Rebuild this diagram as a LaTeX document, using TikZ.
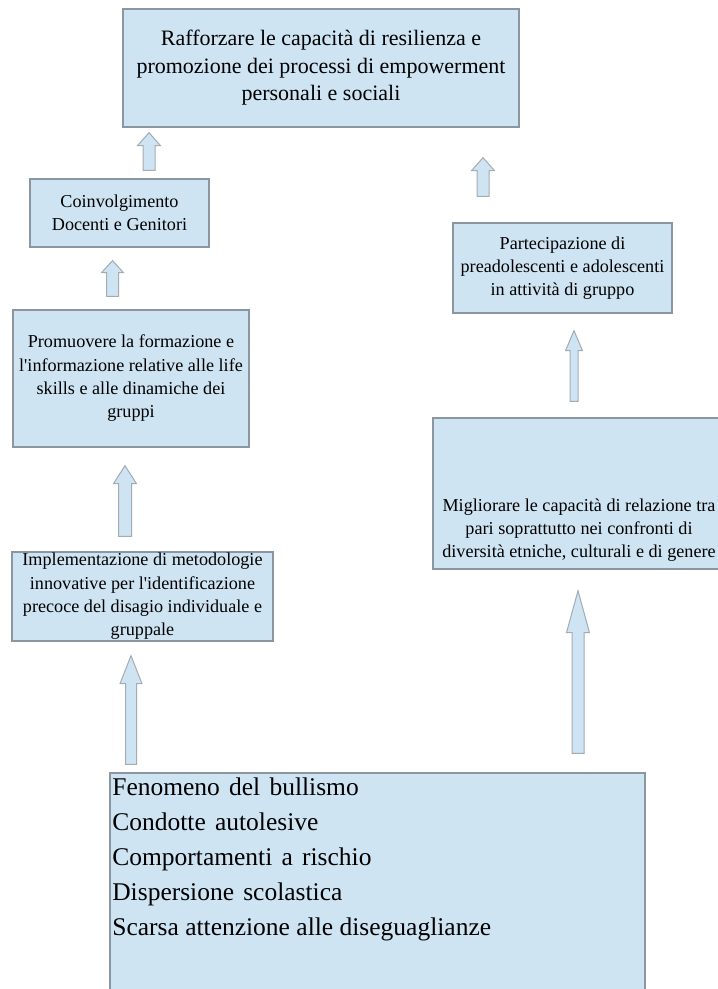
\documentclass[tikz,border=0pt]{standalone}
\usepackage{fontspec}
\setmainfont{Liberation Serif}
\usetikzlibrary{calc,positioning}
\definecolor{boxblue}{RGB}{207,228,243}
\definecolor{boxgray}{RGB}{140,150,160}

\begin{document}
\begin{tikzpicture}[x=0.6pt, y=-0.6pt,
                    font=\fontsize{10.9}{14}\selectfont]
  % styles
  \tikzstyle{box}=[rectangle,draw=boxgray,fill=boxblue,line width=0.8pt,
                   align=center,inner sep=0pt]
  \tikzstyle{boxtext}=[align=center,inner sep=0pt]
  \tikzstyle{goal}=[font=\fontsize{13.2}{16.5}\selectfont]
  \tikzstyle{problem}=[align=left,inner sep=0pt,anchor=north west,
                       font=\fontsize{15.3}{21}\selectfont]
  \tikzset{blockarrow/.style n args={3}{draw=boxgray!80,fill=boxblue,line width=0.6pt,
      to path={let \p1=(\tikztostart), \p2=(\tikztotarget) in
        (\x1-#3*0.3pt,\y1) -- (\x1-#3*0.3pt,\y2-#1*0.6pt) -- (\x1-#2*0.3pt,\y2-#1*0.6pt)
        -- (\x1,\y2) -- (\x1+#2*0.3pt,\y2-#1*0.6pt) -- (\x1+#3*0.3pt,\y2-#1*0.6pt)
        -- (\x1+#3*0.3pt,\y1) -- cycle}}}

  \useasboundingbox (0,0) rectangle (718,989);

  % nodes
  \node[box,goal,minimum width=237.6pt,minimum height=70.8pt] (top) at (321,68)
       {Rafforzare le capacità di resilienza e\\
        promozione dei processi di empowerment\\
        personali e sociali};
  \node[box,minimum width=107.4pt,minimum height=40.8pt] (coinv) at (119.5,213)
       {Coinvolgimento\\Docenti e Genitori};
  \node[box,minimum width=141.6pt,minimum height=82.2pt] (prom) at (131,378.5)
       {Promuovere la formazione e\\l\textquotesingle informazione relative alle life\\
        skills e alle dinamiche dei\\gruppi};
  \node[box,minimum width=156.6pt,minimum height=53.4pt] (impl) at (142.5,596.5)
       {Implementazione di metodologie\\innovative per l\textquotesingle identificazione\\
        precoce del disagio individuale e\\gruppale};
  \node[box,minimum width=131.4pt,minimum height=54pt] (part) at (562.5,268)
       {Partecipazione di\\preadolescenti e adolescenti\\in attività di gruppo};
  \node[box,minimum width=175.2pt,minimum height=90.6pt] (migl) at (579,493.5) {};
  \node[boxtext] (migltext) at (579,530)
       {Migliorare le capacità di relazione tra\\pari soprattutto nei confronti di\\
        diversità etniche, culturali e di genere};
  \node[box,minimum width=321pt,minimum height=133.2pt] (cause) at (377.5,884) {};
  \node[problem] (causetext) at (112,777)
       {Fenomeno\hspace{0.36em}del\hspace{0.36em}bullismo\\
        Condotte\hspace{0.36em}autolesive\\
        Comportamenti\hspace{0.36em}a\hspace{0.36em}rischio\\
        Dispersione\hspace{0.36em}scolastica\\
        Scarsa attenzione alle diseguaglianze};

  % arrows
  \draw[blockarrow={13}{23}{12}] ([shift={(29.5,-8)}]coinv.north) to ([shift={(-172,5)}]top.south);
  \draw[blockarrow={12}{22}{12}] ([shift={(-18.5,-13)}]prom.north) to ([shift={(-7,13)}]coinv.south);
  \draw[blockarrow={18}{23}{13}] ([shift={(-17.5,-15)}]impl.north) to ([shift={(-6,18)}]prom.south);
  \draw[blockarrow={28}{22}{11}] ([shift={(-246.5,-8)}]cause.north) to ([shift={(-11.5,14)}]impl.south);
  \draw[blockarrow={13}{23}{12}] ([shift={(-79.5,-26)}]part.north) to ([shift={(162,30)}]top.south);
  \draw[blockarrow={20}{17}{8}]  ([shift={(-5,-16)}]migl.north) to ([shift={(11.5,17)}]part.south);
  \draw[blockarrow={42}{23}{12}] ([shift={(200.5,-19)}]cause.north) to ([shift={(-1,21)}]migl.south);
\end{tikzpicture}
\end{document}
